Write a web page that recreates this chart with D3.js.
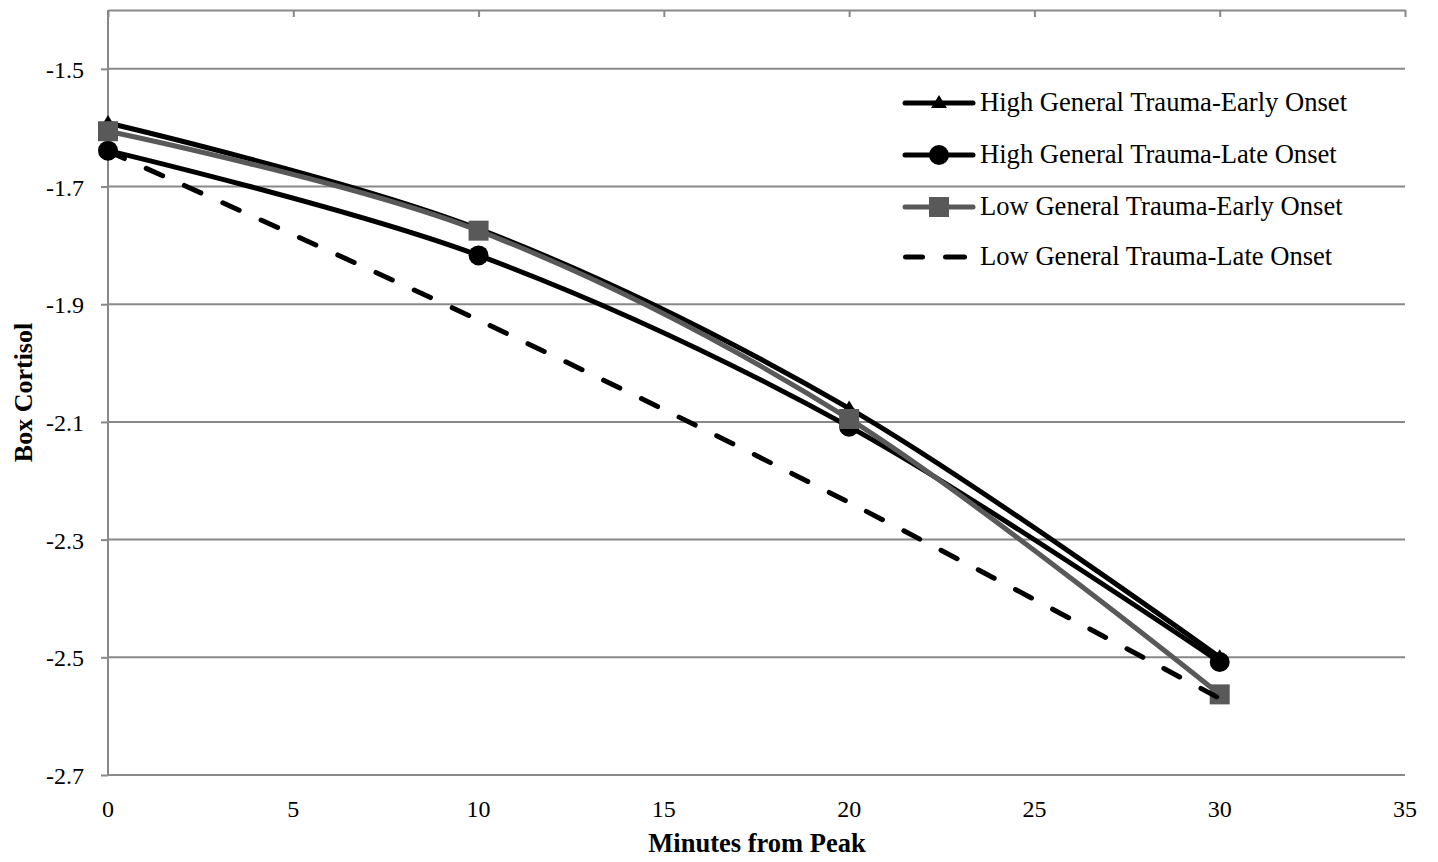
<!DOCTYPE html>
<html>
<head>
<meta charset="utf-8">
<script src="https://cdn.jsdelivr.net/npm/d3@7"></script>
<style>
  html, body { margin: 0; padding: 0; background: #fff; }
  svg { display: block; }
  text { font-family: "Liberation Serif", "Times New Roman", serif; fill: #000; }
</style>
</head>
<body>
<svg id="chart" width="1438" height="862"></svg>
<script>
// Minutes from cortisol peak
const minutes = [0, 10, 20, 30];

// Box-transformed cortisol for each group
const highEarly = [-1.592, -1.772, -2.077, -2.500];
const highLate  = [-1.639, -1.817, -2.108, -2.508];
const lowEarly  = [-1.606, -1.775, -2.095, -2.563];
const lowLate   = [-1.640, -1.927, -2.237, -2.570];

const seriesNames = [
  "High General Trauma-Early Onset",
  "High General Trauma-Late Onset",
  "Low General Trauma-Early Onset",
  "Low General Trauma-Late Onset"
];

const xTicks = [0, 5, 10, 15, 20, 25, 30, 35];
const yTicks = [-1.5, -1.7, -1.9, -2.1, -2.3, -2.5, -2.7];

const series = [
  { name: seriesNames[0], values: highEarly, color: "#000", marker: "triangle", dash: null },
  { name: seriesNames[1], values: highLate,  color: "#000", marker: "circle",   dash: null },
  { name: seriesNames[2], values: lowEarly,  color: "#595959", marker: "square", dash: null },
  { name: seriesNames[3], values: lowLate,   color: "#000", marker: "none",     dash: "18,24" }
];

const svg = d3.select("#chart");
const plotLeft = 108, plotRight = 1405, plotTop = 10, plotBottom = 775;
const gridColor = "#888888";

const x = d3.scaleLinear().domain([0, 35]).range([plotLeft, plotRight]);
const y = d3.scaleLinear().domain([-2.7, -1.4]).range([plotBottom, plotTop]);

// Horizontal gridlines
svg.append("g")
  .selectAll("line")
  .data(yTicks)
  .join("line")
  .attr("x1", plotLeft).attr("x2", plotRight)
  .attr("y1", d => y(d)).attr("y2", d => y(d))
  .attr("stroke", gridColor).attr("stroke-width", 2);

// Top horizontal axis line with inward ticks
const xTop = svg.append("g").attr("transform", `translate(0,${y(-1.4)})`)
  .call(d3.axisTop(x).tickValues(xTicks).tickSize(-7).tickSizeOuter(0).tickFormat(""));
xTop.select(".domain").attr("stroke", gridColor).attr("stroke-width", 2);
xTop.selectAll(".tick line").attr("stroke", gridColor).attr("stroke-width", 2);

// X tick labels along the bottom
svg.append("g")
  .selectAll("text")
  .data(xTicks)
  .join("text")
  .attr("x", d => x(d))
  .attr("y", 817)
  .attr("text-anchor", "middle")
  .attr("font-size", 24)
  .text(d => d);

// Left axis
const yAxis = svg.append("g").attr("transform", `translate(${plotLeft},0)`)
  .call(d3.axisLeft(y).tickValues(yTicks).tickSize(7).tickPadding(17).tickFormat(d3.format(".1f")));
yAxis.select(".domain").attr("stroke", gridColor).attr("stroke-width", 2)
  .attr("d", `M0,${plotTop}V${plotBottom}`);
yAxis.selectAll(".tick line").attr("stroke", gridColor).attr("stroke-width", 2);
yAxis.selectAll(".tick text")
  .attr("font-family", "Liberation Serif, serif")
  .attr("font-size", 24).attr("fill", "#000")
  .attr("dy", "0.36em")
  .text(d => d3.format(".1f")(d).replace("−", "-"));

// Axis titles
svg.append("text")
  .attr("x", 757)
  .attr("y", 852)
  .attr("text-anchor", "middle")
  .attr("font-size", 26.5).attr("font-weight", "bold")
  .text("Minutes from Peak");

svg.append("text")
  .attr("transform", `translate(32,${(plotTop + plotBottom) / 2}) rotate(-90)`)
  .attr("text-anchor", "middle")
  .attr("font-size", 26).attr("font-weight", "bold")
  .text("Box Cortisol");

// Smoothed series lines
const line = d3.line()
  .x((d, i) => x(minutes[i]))
  .y(d => y(d))
  .curve(d3.curveCardinal.tension(0));

function drawMarker(g, type, cx, cy, color) {
  if (type === "circle") {
    g.append("circle").attr("cx", cx).attr("cy", cy).attr("r", 10).attr("fill", color);
  } else if (type === "square") {
    g.append("rect").attr("x", cx - 10).attr("y", cy - 10)
      .attr("width", 20).attr("height", 20).attr("fill", color);
  } else if (type === "triangle") {
    g.append("path")
      .attr("d", `M${cx},${cy - 8}L${cx + 8},${cy + 5}L${cx - 8},${cy + 5}Z`)
      .attr("fill", color);
  }
}

const plot = svg.append("g");
series.forEach(s => {
  const g = plot.append("g");
  g.append("path")
    .attr("d", line(s.values))
    .attr("fill", "none")
    .attr("stroke", s.color)
    .attr("stroke-width", 5)
    .attr("stroke-linecap", s.dash ? "round" : "butt")
    .attr("stroke-dasharray", s.dash);
  s.values.forEach((v, i) => drawMarker(g, s.marker, x(minutes[i]), y(v), s.color));
});

// Legend
const legendRows = [103, 155, 207, 257];
const legend = svg.append("g");
series.forEach((s, i) => {
  const ly = legendRows[i];
  const g = legend.append("g");
  if (s.dash) {
    g.append("line").attr("x1", 905.5).attr("x2", 922.5).attr("y1", ly).attr("y2", ly)
      .attr("stroke", s.color).attr("stroke-width", 5).attr("stroke-linecap", "round");
    g.append("line").attr("x1", 945.5).attr("x2", 964.5).attr("y1", ly).attr("y2", ly)
      .attr("stroke", s.color).attr("stroke-width", 5).attr("stroke-linecap", "round");
  } else {
    g.append("line").attr("x1", 905).attr("x2", 973).attr("y1", ly).attr("y2", ly)
      .attr("stroke", s.color).attr("stroke-width", 5).attr("stroke-linecap", "round");
    drawMarker(g, s.marker, 939, ly, s.color);
  }
  g.append("text")
    .attr("x", 980).attr("y", ly + 8)
    .attr("font-size", 26.6)
    .text(s.name);
});
</script>
</body>
</html>
